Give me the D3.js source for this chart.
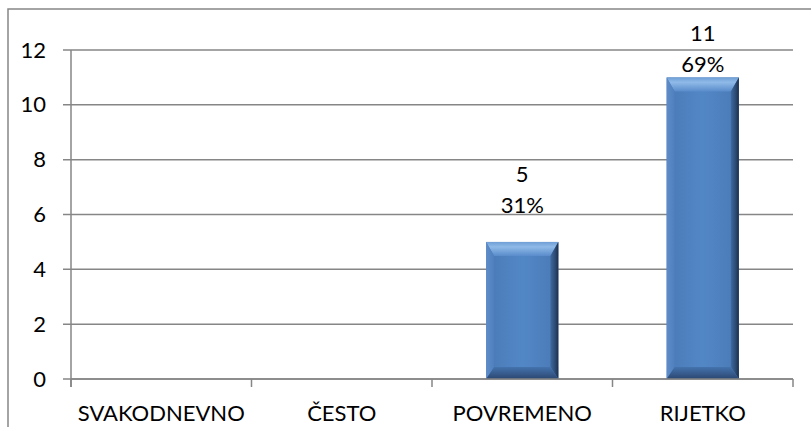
<!DOCTYPE html>
<html><head><meta charset="utf-8">
<script src="https://cdn.jsdelivr.net/npm/d3@7"></script>
<style>body{margin:0;background:#fff}svg{display:block}text{font-family:Lato,"Open Sans",sans-serif;fill:#000}</style>
</head><body><svg id="c" width="811" height="427"></svg>
<script>
const categories = ["SVAKODNEVNO", "ČESTO", "POVREMENO", "RIJETKO"];
const counts = [0, 0, 5, 11];
const percents = ["0%", "0%", "31%", "69%"];
const yTicks = [0, 2, 4, 6, 8, 10, 12];

const svg = d3.select("#c");
const L = 71, R = 793, T = 50, B = 379;
const fs = 22;
const grid = "#868686";

svg.append("rect").attr("x", 8).attr("y", 9).attr("width", 820).attr("height", 440)
  .attr("fill", "none").attr("stroke", grid).attr("stroke-width", 1.5);

const y = d3.scaleLinear().domain([0, 12]).range([B, T]);
const x = d3.scaleBand().domain(categories).range([L, R]).paddingInner(0.6).paddingOuter(0.3);

svg.append("g").selectAll("line").data(yTicks).join("line")
  .attr("x1", L - 8).attr("x2", R).attr("y1", d => y(d)).attr("y2", d => y(d))
  .attr("stroke", grid).attr("stroke-width", 1.5);
svg.append("line").attr("x1", L).attr("x2", L).attr("y1", T).attr("y2", B + 8)
  .attr("stroke", grid).attr("stroke-width", 1.5);
const step = x.step();
svg.append("g").selectAll("line").data(d3.range(categories.length + 1)).join("line")
  .attr("x1", i => L + i * step).attr("x2", i => L + i * step)
  .attr("y1", B).attr("y2", B + 8).attr("stroke", grid).attr("stroke-width", 1.5);

svg.append("g").selectAll("text").data(yTicks).join("text")
  .attr("x", 46).attr("y", d => y(d) + 7.5).attr("text-anchor", "end")
  .attr("font-size", fs).text(d => d);

svg.append("g").selectAll("text").data(categories).join("text")
  .attr("x", d => x(d) + x.bandwidth() / 2).attr("y", 421).attr("text-anchor", "middle")
  .attr("font-size", fs).text(d => d);

const defs = svg.append("defs");
function lg(id, x1, y1, x2, y2, stops) {
  const g = defs.append("linearGradient").attr("id", id)
    .attr("x1", x1).attr("y1", y1).attr("x2", x2).attr("y2", y2);
  stops.forEach(s => g.append("stop").attr("offset", s[0]).attr("stop-color", s[1]));
}
lg("face", 0, 0, 1, 0, [[0, "#4a7ab6"], [0.5, "#5287c6"], [1, "#4a7ab6"]]);
lg("topB", 0, 0, 0, 1, [[0, "#6f9ed6"], [0.35, "#8fbae8"], [1, "#5a8ccb"]]);
lg("leftB", 0, 0, 1, 0, [[0, "#5e8cc8"], [1, "#4f80bd"]]);
lg("rightB", 0, 0, 1, 0, [[0, "#3f6aa0"], [0.6, "#2c4b74"], [1, "#1b2f4c"]]);
lg("botB", 0, 0, 0, 1, [[0, "#4473ad"], [0.6, "#36598a"], [1, "#2a4670"]]);

const data = categories.map((c, i) => ({c, v: counts[i], p: percents[i]})).filter(d => d.v > 0);
const bars = svg.append("g").selectAll("g").data(data).join("g");
const bvS = 8, bvT = 14, bvB = 12;
bars.each(function(d) {
  const g = d3.select(this);
  const x0 = x(d.c), x1 = x0 + x.bandwidth(), y0 = y(d.v), y1 = y(0);
  g.append("rect").attr("x", x0).attr("y", y0).attr("width", x1 - x0).attr("height", y1 - y0).attr("fill", "url(#face)");
  const poly = (pts, f) => g.append("polygon").attr("points", pts.map(p => p.join(",")).join(" ")).attr("fill", f);
  poly([[x0, y0], [x1, y0], [x1 - bvS, y0 + bvT], [x0 + bvS, y0 + bvT]], "url(#topB)");
  poly([[x0, y0], [x0 + bvS, y0 + bvT], [x0 + bvS, y1 - bvB], [x0, y1]], "url(#leftB)");
  poly([[x1, y0], [x1 - bvS, y0 + bvT], [x1 - bvS, y1 - bvB], [x1, y1]], "url(#rightB)");
  poly([[x0, y1], [x0 + bvS, y1 - bvB], [x1 - bvS, y1 - bvB], [x1, y1]], "url(#botB)");
  const cx = (x0 + x1) / 2;
  const base2 = Math.max(y0 - 29, y(12) + 22);
  g.append("text").attr("x", cx).attr("y", base2 - 31).attr("text-anchor", "middle").attr("font-size", fs).text(d.v);
  g.append("text").attr("x", cx).attr("y", base2).attr("text-anchor", "middle").attr("font-size", fs).text(d.p);
});
svg.append("line").attr("x1", L).attr("x2", R).attr("y1", y(0)).attr("y2", y(0)).attr("stroke", grid).attr("stroke-width", 1.5);
</script></body></html>
